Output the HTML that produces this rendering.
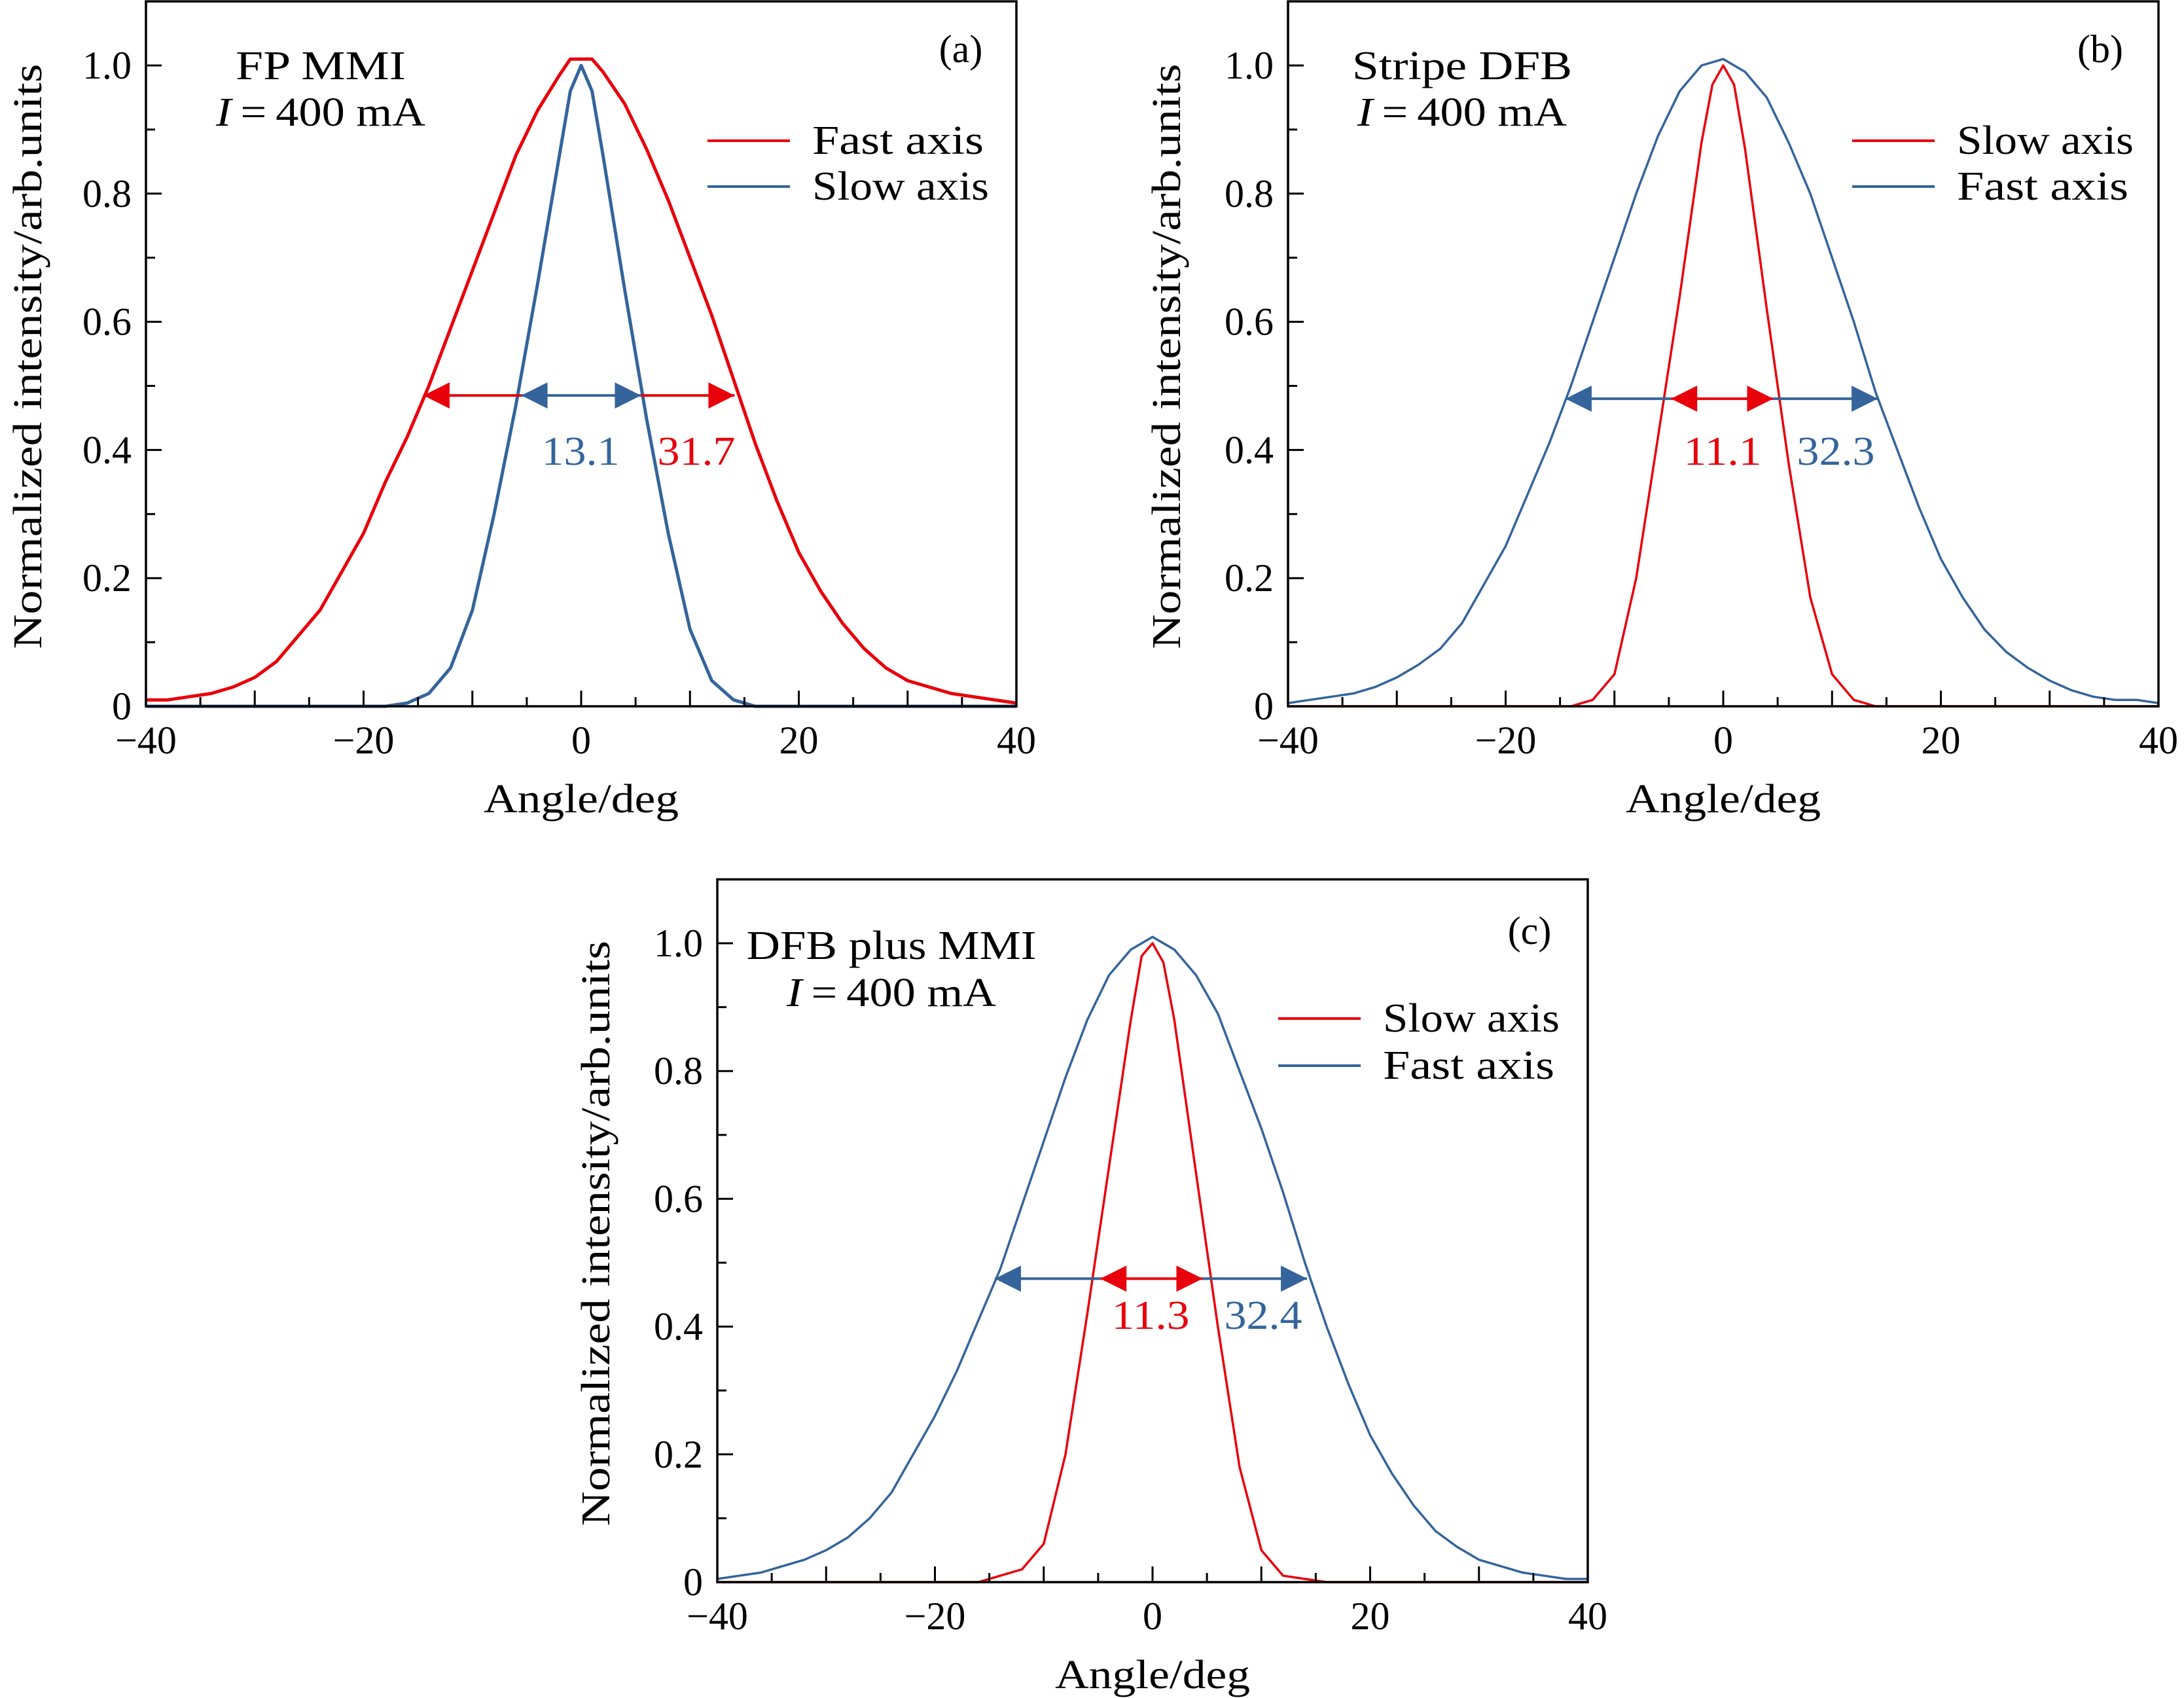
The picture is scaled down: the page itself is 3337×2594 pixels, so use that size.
<!DOCTYPE html>
<html><head><meta charset="utf-8"><style>
html,body{margin:0;padding:0;background:#fff;}
svg{display:block;font-family:"Liberation Serif",serif;}
</style></head><body>
<svg id="fig" width="3337" height="2594" viewBox="0 0 3337 2594" xmlns="http://www.w3.org/2000/svg">
<defs>
<marker id="ar" viewBox="0 0 10 10" refX="10" refY="5" markerWidth="10" markerHeight="10" markerUnits="userSpaceOnUse" orient="auto-start-reverse"><path d="M0,0 L10,5 L0,10 z" fill="#e8000b" transform="scale(1)"/></marker>
<marker id="ab" viewBox="0 0 10 10" refX="10" refY="5" markerWidth="10" markerHeight="10" markerUnits="userSpaceOnUse" orient="auto-start-reverse"><path d="M0,0 L10,5 L0,10 z" fill="#34649b"/></marker>
</defs>
</svg>
<script>
const RED='#e8000b', BLUE='#34649b';
const xTicks=[-40,-20,0,20,40];
const xTickLabels=['\u221240','\u221220','0','20','40'];
const yTicks=[0,0.2,0.4,0.6,0.8,1.0];
const yTickLabels=['0','0.2','0.4','0.6','0.8','1.0'];

// Panel (a)
const aFastX=[-40,-38,-36,-34,-32,-30,-28,-26,-24,-22,-20,-18,-16,-14,-12,-10,-8,-6,-4,-2,-1,0,1,2,4,6,8,10,12,14,16,18,20,22,24,26,28,30,32,34,36,38,40];
const aFastY=[0.01,0.01,0.015,0.02,0.03,0.045,0.07,0.11,0.15,0.21,0.27,0.35,0.42,0.5,0.59,0.68,0.77,0.86,0.93,0.985,1.01,1.01,1.01,0.99,0.94,0.87,0.79,0.70,0.61,0.51,0.41,0.32,0.24,0.18,0.13,0.09,0.06,0.04,0.03,0.02,0.015,0.01,0.005];
const aSlowX=[-40,-18,-16,-14,-12,-10,-8,-6,-4,-2,-1,0,1,2,4,6,8,10,12,14,16,18,40];
const aSlowY=[0,0,0.005,0.02,0.06,0.15,0.30,0.47,0.66,0.86,0.96,1.0,0.96,0.86,0.65,0.45,0.27,0.12,0.04,0.01,0,0,0];
// Panel (b)
const bSlowX=[-40,-14,-12,-10,-8,-6,-4,-2,-1,0,1,2,4,6,8,10,12,14,40];
const bSlowY=[0,0,0.01,0.05,0.2,0.42,0.64,0.88,0.97,1.0,0.97,0.87,0.62,0.38,0.17,0.05,0.01,0,0];
const bFastX=[-40,-38,-36,-34,-32,-30,-28,-26,-24,-22,-20,-18,-16,-14,-12,-10,-8,-6,-4,-2,0,2,4,6,8,10,12,14,16,18,20,22,24,26,28,30,32,34,36,38,40];
const bFastY=[0.005,0.01,0.015,0.02,0.03,0.045,0.065,0.09,0.13,0.19,0.25,0.33,0.41,0.5,0.6,0.7,0.8,0.89,0.96,1.0,1.01,0.99,0.95,0.88,0.8,0.7,0.6,0.49,0.4,0.31,0.23,0.17,0.12,0.085,0.06,0.04,0.025,0.015,0.01,0.01,0.005];
// Panel (c)
const cSlowX=[-40,-16,-14,-12,-10,-8,-6,-4,-2,-1,0,1,2,4,6,8,10,12,14,16,40];
const cSlowY=[0,0,0.01,0.02,0.06,0.2,0.42,0.65,0.88,0.98,1.0,0.97,0.88,0.64,0.4,0.18,0.05,0.01,0.005,0,0];
const cFastX=bFastX;
const cFastY=[0.005,0.01,0.015,0.025,0.035,0.05,0.07,0.1,0.14,0.2,0.26,0.33,0.41,0.49,0.59,0.69,0.79,0.88,0.95,0.99,1.01,0.99,0.95,0.89,0.8,0.71,0.61,0.5,0.4,0.31,0.23,0.17,0.12,0.08,0.055,0.035,0.025,0.015,0.01,0.005,0.005];

const svg=document.getElementById('fig');
const NS='http://www.w3.org/2000/svg';
function mk(tag,attrs,parent,txt){const e=document.createElementNS(NS,tag);for(const k in attrs)e.setAttribute(k,attrs[k]);if(txt!==undefined)e.textContent=txt;(parent||svg).appendChild(e);return e;}

const panels=[
 {id:'a',x0:223,x1:1553,y0:1079,y1:100,ylab:43,title:'FP MMI',tl:260,tx:490,ty:121,iy:192,lx:1468,ly:95,lw:5,
  legX:1081,legY:[215,285],legText:['Fast axis','Slow axis'],legLen:[262,270],legCol:[RED,BLUE],
  series:[[aFastX,aFastY,RED,'fast-axis-curve'],[aSlowX,aSlowY,BLUE,'slow-axis-curve']],
  outer:[-14.5,14.1,RED,'ar'],inner:[-5.5,5.5,BLUE,'ab'],ay:0.485,
  n1:['13.1',887,BLUE],n2:['31.7',1064,RED],ny:710},
 {id:'b',x0:1968,x1:3298,y0:1079,y1:100,ylab:1783,title:'Stripe DFB',tl:336,tx:2234,ty:121,iy:192,lx:3209,ly:95,lw:3.5,
  legX:2830,legY:[215,285],legText:['Slow axis','Fast axis'],legLen:[270,262],legCol:[RED,BLUE],
  series:[[bFastX,bFastY,BLUE,'fast-axis-curve'],[bSlowX,bSlowY,RED,'slow-axis-curve']],
  outer:[-14.5,14.2,BLUE,'ab'],inner:[-4.8,4.6,RED,'ar'],ay:0.48,
  n1:['11.1',2632,RED],n2:['32.3',2805,BLUE],ny:710},
 {id:'c',x0:1096,x1:2426,y0:2417,y1:1441,ylab:911,title:'DFB plus MMI',tl:443,tx:1362,ty:1465,iy:1537,lx:2337,ly:1442,lw:3.5,
  legX:1953,legY:[1556,1628],legText:['Slow axis','Fast axis'],legLen:[270,262],legCol:[RED,BLUE],
  series:[[cFastX,cFastY,BLUE,'fast-axis-curve'],[cSlowX,cSlowY,RED,'slow-axis-curve']],
  outer:[-14.5,14.2,BLUE,'ab'],inner:[-4.8,4.6,RED,'ar'],ay:0.475,
  n1:['11.3',1758,RED],n2:['32.4',1930,BLUE],ny:2030}
];

panels.forEach(p=>{
 const g=mk('g',{});
 
 
 const X=v=>p.x0+(v+40)/80*(p.x1-p.x0);
 const Y=v=>p.y0-v*(p.y0-p.y1);
 const top=Y(1.1);
 p.series.forEach(s=>{
  const d=s[0].map((x,i)=>(i?'L':'M')+X(x).toFixed(1)+','+Y(s[1][i]).toFixed(1)).join(' ');
  const path=mk('path',{d:d,fill:'none',stroke:s[2],'stroke-width':p.lw,'stroke-linejoin':'round'},g);
  
  
 });
 const fr=mk('rect',{x:p.x0,y:top,width:p.x1-p.x0,height:p.y0-top,fill:'none',stroke:'#000','stroke-width':3.5},g);
 
 
 for(let v=-35;v<=35;v+=5){const L=(v%10===0)?24:14;mk('line',{x1:X(v),x2:X(v),y1:p.y0,y2:p.y0-L,stroke:'#000','stroke-width':3},g);}
 for(let v=0.1;v<1.05;v+=0.1){const k=Math.round(v*10);const L=(k%2===0)?24:14;mk('line',{x1:p.x0,x2:p.x0+L,y1:Y(v),y2:Y(v),stroke:'#000','stroke-width':3},g);}
 xTicks.forEach((v,i)=>{const t=mk('text',{x:X(v),y:p.y0+72,'font-size':60,'text-anchor':'middle'},g,xTickLabels[i]);
  
  });
 yTicks.forEach((v,i)=>{const t=mk('text',{x:p.x0-22,y:Y(v)+20,'font-size':60,'text-anchor':'end'},g,yTickLabels[i]);
  
  });
 const xl=mk('text',{x:(p.x0+p.x1)/2,y:p.y0+162,'font-size':62,'text-anchor':'middle',textLength:298,lengthAdjust:'spacingAndGlyphs'},g,'Angle/deg');
 
 
 const yl=mk('text',{x:0,y:0,'font-size':62,'text-anchor':'middle',textLength:894,lengthAdjust:'spacingAndGlyphs',transform:`translate(${p.ylab+20},${(p.y0+top)/2+4}) rotate(-90)`},g,'Normalized intensity/arb.units');
 
 
 const t1=mk('text',{x:p.tx,y:p.ty,'font-size':62,'text-anchor':'middle',textLength:p.tl,lengthAdjust:'spacingAndGlyphs'},g,p.title);
 
 
 const t2=mk('text',{x:p.tx,y:p.iy,'font-size':62,'text-anchor':'middle',textLength:320,lengthAdjust:'spacingAndGlyphs'},g);
 
 
 mk('tspan',{'font-style':'italic'},t2,'I');
 mk('tspan',{},t2,'\u2009=\u2009400 mA');
 const pl=mk('text',{x:p.lx,y:p.ly,'font-size':60,'text-anchor':'middle'},g,'('+p.id+')');
 
 
 p.legText.forEach((s,i)=>{
  const ln=mk('line',{x1:p.legX,x2:p.legX+126,y1:p.legY[i],y2:p.legY[i],stroke:p.legCol[i],'stroke-width':4},g);
  
  
  const lt=mk('text',{x:p.legX+160,y:p.legY[i]+20,'font-size':62,textLength:p.legLen[i],lengthAdjust:'spacingAndGlyphs'},g,s);
  
  
 });
 const ay=Y(p.ay);
 const o1=mk('line',{x1:X(p.inner[0]),x2:X(p.outer[0]),y1:ay,y2:ay,stroke:p.outer[2],'stroke-width':4,'marker-end':`url(#${p.outer[3]})`},g);
 
 
 const o2=mk('line',{x1:X(p.inner[1]),x2:X(p.outer[1]),y1:ay,y2:ay,stroke:p.outer[2],'stroke-width':4,'marker-end':`url(#${p.outer[3]})`},g);
 
 
 const i1=mk('line',{x1:X(p.inner[0]),x2:X(p.inner[1]),y1:ay,y2:ay,stroke:p.inner[2],'stroke-width':4,'marker-start':`url(#${p.inner[3]})`,'marker-end':`url(#${p.inner[3]})`},g);
 
 
 const n1=mk('text',{x:p.n1[1],y:p.ny,'font-size':62,'text-anchor':'middle',fill:p.n1[2],textLength:119,lengthAdjust:'spacingAndGlyphs'},g,p.n1[0]);
 
 
 const n2=mk('text',{x:p.n2[1],y:p.ny,'font-size':62,'text-anchor':'middle',fill:p.n2[2],textLength:119,lengthAdjust:'spacingAndGlyphs'},g,p.n2[0]);
 
 
});
// enlarge arrowheads
document.querySelectorAll('marker').forEach(m=>{m.setAttribute('markerWidth','44');m.setAttribute('markerHeight','40');});
</script>
</body></html>
